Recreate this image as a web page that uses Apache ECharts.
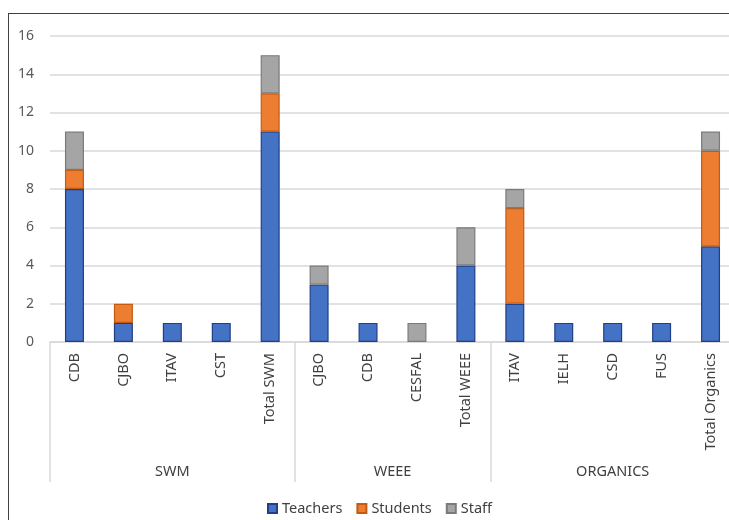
<!DOCTYPE html>
<html>
<head>
<meta charset="utf-8">
<script src="https://cdn.jsdelivr.net/npm/echarts@6/dist/echarts.min.js"></script>
<style>
  html, body { margin: 0; padding: 0; background: #fff; overflow: hidden; }
  #chart { position: absolute; left: 0; top: 0; width: 740px; height: 520px; }
  #frame { position: absolute; left: 8px; top: 13px; width: 800px; height: 600px;
           border-left: 1.5px solid #404040; border-top: 1.5px solid #404040; pointer-events: none; }
</style>
</head>
<body>
<div id="chart"></div>
<div id="frame"></div>
<script>
// categories (first level) and their groups
const categories = ['CDB', 'CJBO', 'ITAV', 'CST', 'Total SWM',
    'CJBO', 'CDB', 'CESFAL', 'Total WEEE',
    'ITAV', 'IELH', 'CSD', 'FUS', 'Total Organics'];
const groups = ['SWM', 'WEEE', 'ORGANICS'];
const groupSizes = [5, 4, 5];

// stacked values
const teachers = [8, 1, 1, 1, 11, 3, 1, 0, 4, 2, 1, 1, 1, 5];
const students = [1, 1, 0, 0, 2, 0, 0, 0, 0, 5, 0, 0, 0, 5];
const staff = [2, 0, 0, 0, 2, 1, 0, 1, 2, 1, 0, 0, 0, 1];

// index where each group starts, and the centre of each group
const groupStarts = [];
const groupCenters = {};
let acc = 0;
groups.forEach((g, i) => {
    groupStarts.push(acc);
    groupCenters[acc + groupSizes[i] / 2] = g;
    acc += groupSizes[i];
});

const FONT = 'Noto Sans';
const noZero = arr => arr.map(v => (v === 0 ? '-' : v));

const chart = echarts.init(document.getElementById('chart'));

function barSeries(name, data, color, border) {
    return {
        name: name,
        type: 'bar',
        stack: 'total',
        barWidth: 19,
        data: noZero(data),
        itemStyle: { color: color, borderColor: border, borderWidth: 1.2 }
    };
}

chart.setOption({
    animation: false,
    textStyle: { fontFamily: FONT },
    // plot runs past the right edge of the window, as in the original
    grid: { left: 50, right: 5, top: 36, bottom: 178, containLabel: false },
    yAxis: {
        type: 'value',
        min: 0,
        max: 16,
        interval: 2,
        axisLine: { show: false },
        axisTick: { show: false },
        axisLabel: { fontSize: 14, color: '#595959', margin: 16, fontFamily: FONT },
        splitLine: { lineStyle: { color: '#d9d9d9', width: 1.5 } }
    },
    xAxis: [
        {
            type: 'category',
            data: categories,
            position: 'bottom',
            axisLine: { lineStyle: { color: '#d9d9d9', width: 1.5 } },
            // long ticks only on group boundaries
            axisTick: {
                show: true,
                length: 140,
                interval: idx => groupStarts.indexOf(idx) >= 0,
                lineStyle: { color: '#d9d9d9', width: 1.5 }
            },
            axisLabel: {
                interval: 0,
                rotate: 90,
                margin: 11,
                fontSize: 14.5,
                color: '#404040',
                fontFamily: FONT
            }
        },
        {
            type: 'value',
            min: 0,
            max: categories.length,
            interval: 0.5,
            position: 'bottom',
            offset: 122,
            axisLine: { show: false },
            axisTick: { show: false },
            splitLine: { show: false },
            axisLabel: {
                margin: 0,
                fontSize: 14.5,
                color: '#404040',
                fontFamily: FONT,
                showMinLabel: true,
                showMaxLabel: true,
                formatter: v => groupCenters[v] || ''
            }
        }
    ],
    legend: {
        left: 262,
        top: 496,
        icon: 'rect',
        itemWidth: 9,
        itemHeight: 9,
        itemGap: 14,
        textStyle: { fontSize: 14.5, color: '#404040', fontFamily: FONT },
        data: ['Teachers', 'Students', 'Staff']
    },
    series: [
        barSeries('Teachers', teachers, '#4472c4', '#203f86'),
        barSeries('Students', students, '#ed7d31', '#c55a11'),
        barSeries('Staff', staff, '#a5a5a5', '#7b7b7b')
    ]
});
</script>
</body>
</html>
